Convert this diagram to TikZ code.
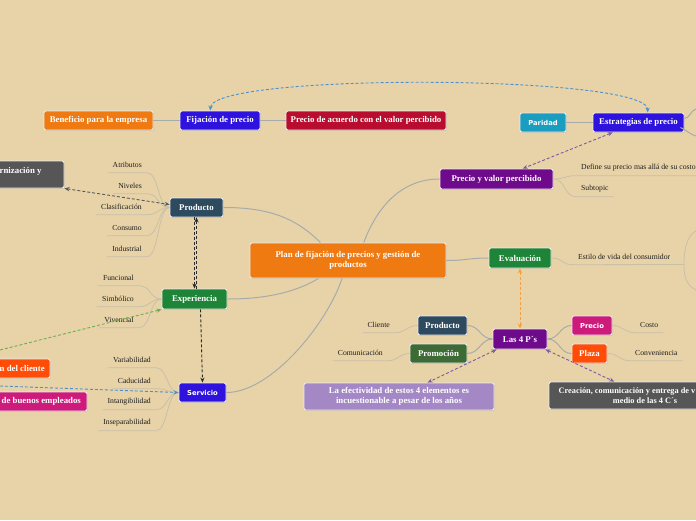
\documentclass[tikz,border=0pt]{standalone}
\usepackage{fontspec}
\setmainfont{Liberation Serif}
\newfontfamily\sansbf{DejaVu Sans}
\usetikzlibrary{arrows.meta,shadows,calc}
\definecolor{bg}{HTML}{E8D3A8}
\definecolor{corange}{HTML}{EF7A12}
\definecolor{cblue}{HTML}{2D13DD}
\definecolor{ccrimson}{HTML}{B80D2E}
\definecolor{cteal}{HTML}{1B9DC0}
\definecolor{cgray}{HTML}{565656}
\definecolor{cslate}{HTML}{2E4A5E}
\definecolor{cgreen}{HTML}{1E8437}
\definecolor{cred}{HTML}{FF4D08}
\definecolor{cmag}{HTML}{CD1B7C}
\definecolor{cpurple}{HTML}{6F0A8C}
\definecolor{cdgreen}{HTML}{3E6A35}
\definecolor{clav}{HTML}{A488C5}
\definecolor{branchc}{HTML}{A7ABAC}
\definecolor{labc}{HTML}{C9C0A9}
\definecolor{labtext}{HTML}{1E1E1E}
\definecolor{dblue}{HTML}{4A90D0}
\definecolor{dgreen}{HTML}{6FAE55}
\definecolor{dorange}{HTML}{F4A040}
\definecolor{dpurple}{HTML}{7A5C9E}
\definecolor{dgray}{HTML}{5A5A5A}
\definecolor{dblack}{HTML}{2A2A2A}
\tikzset{
  topic/.style={rectangle, rounded corners=2pt, draw=white!92!black, line width=0.9pt,
    text=white, font=\bfseries\fontsize{8.8}{9.5}\selectfont, inner sep=0pt, minimum height=19pt,
    align=center, drop shadow={opacity=0.25, shadow xshift=0.7pt, shadow yshift=-0.9pt}},
  sanstopic/.style={topic, font=\sansbf\bfseries\fontsize{6.8}{8}\selectfont},
  toptext/.style={text=white, font=\bfseries\fontsize{8.8}{9.5}\selectfont, inner sep=0pt},
  lab/.style={font=\fontsize{7.7}{9}\selectfont, text=labtext, inner xsep=5pt, inner ysep=0pt, minimum height=15pt},
  branch/.style={draw=branchc, line width=1pt},
  labline/.style={draw=labc, line width=0.8pt},
  rel/.style={dash pattern=on 3pt off 2pt, line width=0.9pt},
  >={Stealth[length=5pt,width=4.2pt]}
}
\begin{document}
\begin{tikzpicture}[x=1pt,y=-1pt]
\useasboundingbox[fill=bg] (0,0) rectangle (696,520);

% ---- topics ----
\node[topic, fill=corange, minimum width=109pt] (benef) at (98.5,120.5) {Beneficio para la empresa};
\node[topic, fill=cblue, minimum width=80pt] (fij) at (220,120.5) {Fijación de precio};
\node[topic, fill=ccrimson, minimum width=160pt] (acuerdo) at (366,120.5) {Precio de acuerdo con el valor percibido};
\node[sanstopic, fill=cteal, minimum width=46pt] (parid) at (543,122.5) {Paridad};
\node[topic, fill=cblue, minimum width=91pt] (estrat) at (638.5,122.5) {Estrategias de precio};
\node[topic, fill=cgray, minimum width=104pt, minimum height=27pt] (moder) at (12,174.5) {};
\node[toptext, anchor=west] (modert) at (-0.5,171) {rnización y};
\node[topic, fill=cslate, minimum width=53pt] (prod1) at (196.5,207.5) {Producto};
\node[topic, fill=cgreen, minimum width=65pt, minimum height=20pt] (exper) at (194.5,299) {Experiencia};
\node[sanstopic, fill=cblue, minimum width=47pt] (serv) at (202.5,392.5) {Servicio};
\node[topic, fill=cred, minimum width=90pt] (cli) at (5,368.5) {};
\node[toptext, anchor=west] (clit) at (-0.5,368.5) {n del cliente};
\node[topic, fill=cmag, minimum width=127pt] (empl) at (23.5,401.5) {};
\node[toptext, anchor=west] (emplt) at (1.5,401.5) {de buenos empleados};
\node[topic, fill=corange, minimum width=196pt, minimum height=35pt] (central) at (348,260.5) {Plan de fijación de precios y gestión de\\productos};
\node[topic, fill=cpurple, minimum width=113pt, minimum height=20pt] (pvp) at (496.5,179) {Precio y valor percibido};
\node[topic, fill=cgreen, minimum width=62pt, minimum height=20pt] (eval) at (520,258) {Evaluación};
\node[topic, fill=cpurple, minimum width=54pt, minimum height=20pt] (p4) at (520,339) {Las 4 P´s};
\node[topic, fill=cslate, minimum width=49pt] (prod2) at (442.5,325.5) {Producto};
\node[topic, fill=cdgreen, minimum width=57pt] (promo) at (438.5,353.5) {Promoción};
\node[sanstopic, fill=cmag, minimum width=40pt] (precio) at (592,325.5) {Precio};
\node[topic, fill=cred, minimum width=35pt] (plaza) at (589.5,353.5) {Plaza};
\node[topic, fill=clav, minimum width=190pt, minimum height=27pt] (efect) at (399,396.5) {La efectividad de estos 4 elementos es\\incuestionable a pesar de los años};
\node[topic, fill=cgray, minimum width=211pt, minimum height=27pt] (crea) at (654.5,395.5) {};
\node[toptext, anchor=west, font=\bfseries\fontsize{8.3}{9.5}\selectfont] (crea1) at (558.5,391.5) {Creación, comunicación y entrega de v};
\node[toptext, font=\bfseries\fontsize{8.3}{9.5}\selectfont] (crea2) at (645,400.5) {medio de las 4 C´s};

% ---- labels ----
\node[lab, anchor=east] (atr) at (147,165) {Atributos};
\node[lab, anchor=east] (niv) at (147,186) {Niveles};
\node[lab, anchor=east] (clas) at (147,207) {Clasificación};
\node[lab, anchor=east] (cons) at (147,228) {Consumo};
\node[lab, anchor=east] (ind) at (147,249) {Industrial};
\node[lab, anchor=east] (func) at (139,278) {Funcional};
\node[lab, anchor=east] (simb) at (139,299) {Simbólico};
\node[lab, anchor=east] (viv) at (139,320) {Vivencial};
\node[lab, anchor=east] (var) at (156,360) {Variabilidad};
\node[lab, anchor=east] (cad) at (156,381) {Caducidad};
\node[lab, anchor=east] (intg) at (156,402) {Intangibilidad};
\node[lab, anchor=east] (insp) at (156,423) {Inseparabilidad};
\node[lab, anchor=west] (def) at (576,168) {Define su precio mas allá de su costo};
\node[lab, anchor=west] (subt) at (576,189) {Subtopic};
\node[lab, anchor=west] (estilo) at (573,257) {Estilo de vida del consumidor};
\node[lab, anchor=east] (clie) at (395,325) {Cliente};
\node[lab, anchor=east] (comu) at (388,353) {Comunicación};
\node[lab, anchor=west] (costo) at (635,325) {Costo};
\node[lab, anchor=west] (conv) at (630,353) {Conveniencia};

% ---- free ends ----
\coordinate (eR1) at (696,109);
\coordinate (eR2) at (696,136);
\coordinate (bm) at (684,264.5);
\coordinate (bt) at (696,231);
\coordinate (bb) at (696,290);
\coordinate (gstart) at (0,350);
\coordinate (bstart) at (0,386);

% ---- branches ----
\draw[branch] (benef.east) -- (fij.west);
\draw[branch] (fij.east) -- (acuerdo.west);
\draw[branch] (parid.east) -- (estrat.west);
\draw[branch] ($(estrat.east)+(0,-4)$) .. controls +(5,0) and +(-5,1) .. (eR1);
\draw[branch] ($(estrat.east)+(-4,5)$) .. controls +(5,2) and +(-5,-1) .. (eR2);
\draw[branch] ($(central.north west)!0.36!(central.north east)$) .. controls +(-25,-25) and +(45,0) .. (prod1.east);
\draw[branch] ($(central.north west)!0.58!(central.north east)$) .. controls +(15,-40) and +(-35,0) .. (pvp.west);
\draw[branch] (central.east) .. controls +(20,0) and +(-20,0) .. (eval.west);
\draw[branch] ($(central.south west)!0.35!(central.south east)$) .. controls +(-25,15) and +(35,0) .. (exper.east);
\draw[branch] ($(central.south west)!0.47!(central.south east)$) .. controls +(-15,45) and +(45,0) .. (serv.east);
\draw[branch] (p4.west) .. controls +(-12,0) and +(12,0) .. (prod2.east);
\draw[branch] (p4.west) .. controls +(-12,0) and +(12,0) .. (promo.east);
\draw[branch] (p4.east) .. controls +(12,0) and +(-12,0) .. (precio.west);
\draw[branch] (p4.east) .. controls +(12,0) and +(-12,0) .. (plaza.west);

% ---- label lines ----
\foreach \n in {atr,niv,clas,cons,ind}
  \draw[labline] (prod1.west) .. controls +(-12,0) and +(12,0) .. (\n.south east) -- (\n.south west);
\foreach \n in {func,simb,viv}
  \draw[labline] (exper.west) .. controls +(-12,0) and +(12,0) .. (\n.south east) -- (\n.south west);
\foreach \n in {var,cad,intg,insp}
  \draw[labline] (serv.west) .. controls +(-12,0) and +(12,0) .. (\n.south east) -- (\n.south west);
\draw[labline] (prod2.west) .. controls +(-10,0) and +(10,0) .. (clie.south east) -- (clie.south west);
\draw[labline] (promo.west) .. controls +(-10,0) and +(10,0) .. (comu.south east) -- (comu.south west);
\draw[labline] (pvp.east) .. controls +(12,0) and +(-12,0) .. (def.south west) -- (def.south east);
\draw[labline] (pvp.east) .. controls +(12,0) and +(-12,0) .. (subt.south west) -- (subt.south east);
\draw[labline] (precio.east) .. controls +(10,0) and +(-10,0) .. (costo.south west) -- (costo.south east);
\draw[labline] (plaza.east) .. controls +(12,0) and +(-12,0) .. (conv.south west) -- (conv.south east);
\draw[labline] (eval.east) .. controls +(12,0) and +(-12,0) .. (estilo.south west) -- (bm);
\draw[labline] (bm) .. controls +(0,-22) and +(-6,3) .. (bt);
\draw[labline] (bm) .. controls +(0,18) and +(-6,-3) .. (bb);

% ---- relations ----
\draw[rel, dblue, <->] ($(fij.north west)!0.38!(fij.north east)$) .. controls +(2,-38) and +(0,-38) .. ($(estrat.north west)!0.6!(estrat.north east)$);
\draw[rel, dpurple, <->] ($(estrat.south west)!0.22!(estrat.south east)$) -- ($(pvp.north west)!0.73!(pvp.north east)$);
\draw[rel, dgray, <->] (moder.south east) -- ($(prod1.west)+(0,-3)$);
\draw[rel, dblack, ->] ($(exper.north)+(2,0)$) -- (prod1.south);
\draw[rel, dblack, ->] ($(prod1.south)+(-2,0)$) -- (exper.north);
\draw[rel, dblack, ->] ($(exper.south)+(6,0)$) -- (serv.north);
\draw[rel, dgreen, ->] (gstart) -- (exper.south west);
\draw[rel, dblue, ->] (bstart) -- (serv.west);
\draw[rel, dorange, <->] (eval.south) -- (p4.north);
\draw[rel, dpurple, <->] ($(p4.south west)+(4,0)$) -- ($(efect.north west)!0.65!(efect.north east)$);
\draw[rel, dpurple, <->] ($(p4.south east)+(-2,0)$) -- ($(crea.north west)!0.31!(crea.north east)$);
\end{tikzpicture}
\end{document}
